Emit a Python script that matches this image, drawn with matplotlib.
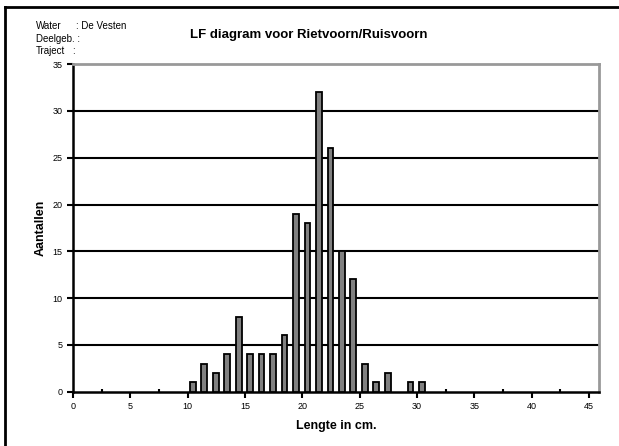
import matplotlib.pyplot as plt
import numpy as np

plt.rcParams['font.family'] = ['Liberation Sans', 'DejaVu Sans']

# lengte (cm) en aantallen
lengte = [10, 11, 12, 13, 14, 15, 16, 17, 18, 19, 20, 21, 22, 23, 24, 25, 26, 27, 29, 30]
aantal = [1, 3, 2, 4, 8, 4, 4, 4, 6, 19, 18, 32, 26, 15, 12, 3, 1, 2, 1, 1]

x_ticks = np.arange(0, 50, 5)
y_ticks = np.arange(0, 40, 5)

fig = plt.figure(figsize=(6.19, 4.46), dpi=100)
ax = fig.add_axes([0.118, 0.122, 0.850, 0.734])

# bars sit a bit right of the integer value, like the original
pos = np.array(lengte) + 0.45
ax.bar(pos, aantal, width=0.5, color='#808080', edgecolor='black', linewidth=1.3, zorder=3)

ax.set_xlim(0, 45.9)
ax.set_ylim(0, 35)
ax.set_xticks(x_ticks)
ax.set_xticks(np.arange(2.5, 45, 5), minor=True)
ax.set_yticks(y_ticks)
for y in y_ticks[1:-1]:
    ax.axhline(y, color='black', linewidth=1.5, zorder=1)

ax.tick_params(axis='both', which='major', labelsize=6.5, length=4, width=1.5, direction='out')
ax.tick_params(axis='x', which='minor', length=2, width=1.5, direction='in')

ax.spines['left'].set_linewidth(1.8)
ax.spines['bottom'].set_linewidth(1.8)
ax.spines['top'].set_color('#999999')
ax.spines['right'].set_color('#999999')
ax.spines['top'].set_linewidth(2)
ax.spines['right'].set_linewidth(2)

ax.set_xlabel('Lengte in cm.', fontsize=9, fontweight='bold')
ax.set_ylabel('Aantallen', fontsize=9, fontweight='bold')
ax.xaxis.set_label_coords(0.5, -0.088)
ax.yaxis.set_label_coords(-0.05, 0.5)

fig.text(0.498, 0.921, 'LF diagram voor Rietvoorn/Ruisvoorn', fontsize=9.5, fontweight='bold', ha='center', va='center')
fig.text(0.058, 0.941, 'Water', fontsize=7, va='center')
fig.text(0.122, 0.941, ': De Vesten', fontsize=7, va='center')
fig.text(0.058, 0.912, 'Deelgeb. :', fontsize=7, va='center')
fig.text(0.058, 0.886, 'Traject', fontsize=7, va='center')
fig.text(0.116, 0.886, ':', fontsize=7, va='center')

# outer frame (only top and left visible)
fig.add_artist(plt.Line2D([0.008, 0.008], [0, 0.985], color='black', linewidth=2, transform=fig.transFigure))
fig.add_artist(plt.Line2D([0.008, 1], [0.985, 0.985], color='black', linewidth=2, transform=fig.transFigure))

fig.savefig('out.png', dpi=100)
